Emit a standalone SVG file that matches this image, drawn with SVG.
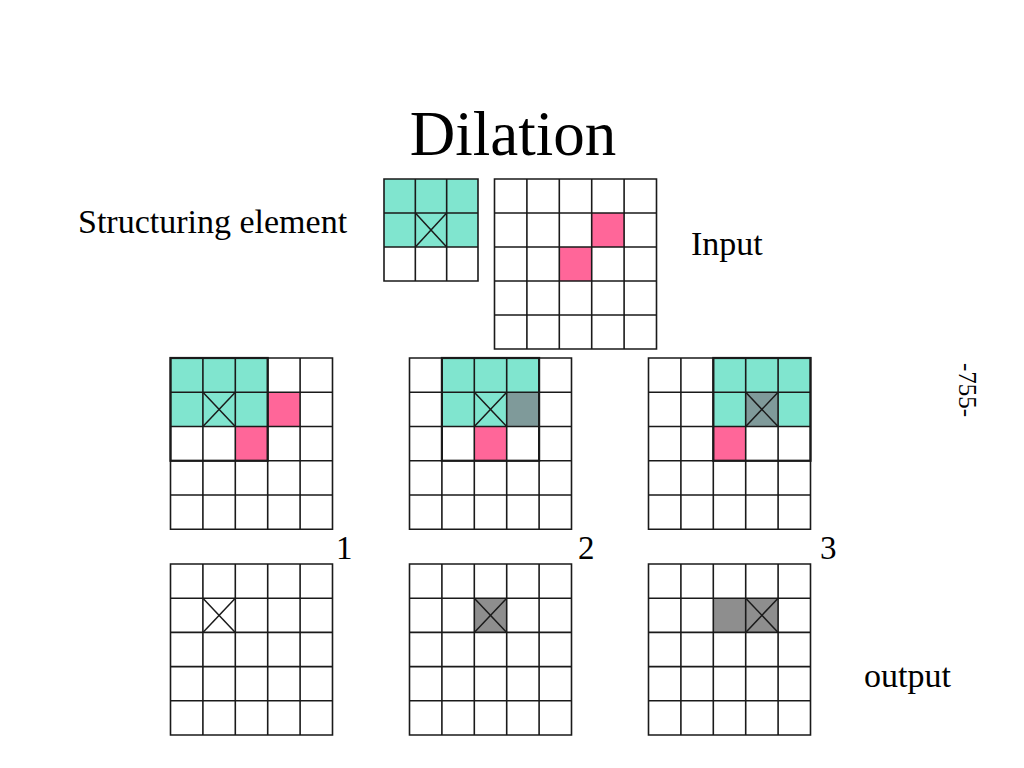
<svg xmlns="http://www.w3.org/2000/svg" width="1024" height="768" viewBox="0 0 1024 768">
<style>
.t{font-family:"Liberation Serif","Times New Roman",serif;fill:#000}
.g{fill:none;stroke:#1a1a1a;stroke-width:1.6}
.se{fill:none;stroke:#1a1a1a;stroke-width:2.2}
.x{stroke:#1a1a1a;stroke-width:1.5}
.teal{fill:#80E5CF}
.pink{fill:#FF6699}
.ov{fill:#7F9A9A}
.gray{fill:#8E8E8E}
.bg{fill:#fff}
</style>
<rect width="1024" height="768" fill="#fff"/>
<text class="t" x="513" y="155" font-size="63" text-anchor="middle">Dilation</text>
<text class="t" x="78" y="233" font-size="34">Structuring element</text>
<text class="t" x="691" y="255" font-size="34">Input</text>
<text class="t" x="864" y="687" font-size="34">output</text>
<text class="t" x="336" y="559" font-size="33">1</text>
<text class="t" x="578" y="559" font-size="33">2</text>
<text class="t" x="820" y="559" font-size="33">3</text>
<text class="t" font-size="25" text-anchor="middle" transform="translate(959,390) rotate(90)">-755-</text>

<g id="structuring-element">
<rect class="teal" x="384" y="179" width="94" height="68"/>
<line class="x" x1="415.33" y1="213" x2="446.67" y2="247"/>
<line class="x" x1="446.67" y1="213" x2="415.33" y2="247"/>
<path class="g" d="M384 179H478V281H384Z M415.33 179V281 M446.67 179V281 M384 213H478 M384 247H478"/>
</g>

<g id="input">
<rect class="bg" x="494.5" y="179" width="162" height="170"/>
<rect class="pink" x="591.7" y="213" width="32.4" height="34"/>
<rect class="pink" x="559.3" y="247" width="32.4" height="34"/>
<path class="g" d="M494.5 179H656.5V349H494.5Z M526.9 179V349 M559.3 179V349 M591.7 179V349 M624.1 179V349 M494.5 213H656.5 M494.5 247H656.5 M494.5 281H656.5 M494.5 315H656.5"/>
</g>

<g id="step-1">
<rect class="teal" x="170.5" y="358" width="97.2" height="68.5"/>
<rect class="pink" x="267.7" y="392.25" width="32.4" height="34.25"/>
<rect class="pink" x="235.3" y="426.5" width="32.4" height="34.25"/>
<path class="g" d="M170.5 358H332.5V529.25H170.5Z M202.9 358V529.25 M235.3 358V529.25 M267.7 358V529.25 M300.1 358V529.25 M170.5 392.25H332.5 M170.5 426.5H332.5 M170.5 460.75H332.5 M170.5 495H332.5"/>
<rect class="se" x="170.5" y="358" width="97.2" height="102.75"/>
<line class="x" x1="202.9" y1="392.25" x2="235.3" y2="426.5"/>
<line class="x" x1="235.3" y1="392.25" x2="202.9" y2="426.5"/>
</g>

<g id="step-2">
<rect class="teal" x="441.9" y="358" width="97.2" height="68.5"/>
<rect class="ov" x="506.7" y="392.25" width="32.4" height="34.25"/>
<rect class="pink" x="474.3" y="426.5" width="32.4" height="34.25"/>
<path class="g" d="M409.5 358H571.5V529.25H409.5Z M441.9 358V529.25 M474.3 358V529.25 M506.7 358V529.25 M539.1 358V529.25 M409.5 392.25H571.5 M409.5 426.5H571.5 M409.5 460.75H571.5 M409.5 495H571.5"/>
<rect class="se" x="441.9" y="358" width="97.2" height="102.75"/>
<line class="x" x1="474.3" y1="392.25" x2="506.7" y2="426.5"/>
<line class="x" x1="506.7" y1="392.25" x2="474.3" y2="426.5"/>
</g>

<g id="step-3">
<rect class="teal" x="713.3" y="358" width="97.2" height="68.5"/>
<rect class="ov" x="745.7" y="392.25" width="32.4" height="34.25"/>
<rect class="pink" x="713.3" y="426.5" width="32.4" height="34.25"/>
<path class="g" d="M648.5 358H810.5V529.25H648.5Z M680.9 358V529.25 M713.3 358V529.25 M745.7 358V529.25 M778.1 358V529.25 M648.5 392.25H810.5 M648.5 426.5H810.5 M648.5 460.75H810.5 M648.5 495H810.5"/>
<rect class="se" x="713.3" y="358" width="97.2" height="102.75"/>
<line class="x" x1="745.7" y1="392.25" x2="778.1" y2="426.5"/>
<line class="x" x1="778.1" y1="392.25" x2="745.7" y2="426.5"/>
</g>

<g id="output-1">
<path class="g" d="M170.5 564H332.5V735H170.5Z M202.9 564V735 M235.3 564V735 M267.7 564V735 M300.1 564V735 M170.5 598.2H332.5 M170.5 632.4H332.5 M170.5 666.6H332.5 M170.5 700.8H332.5"/>
<line class="x" x1="202.9" y1="598.2" x2="235.3" y2="632.4"/>
<line class="x" x1="235.3" y1="598.2" x2="202.9" y2="632.4"/>
</g>

<g id="output-2">
<rect class="gray" x="474.3" y="598.2" width="32.4" height="34.2"/>
<path class="g" d="M409.5 564H571.5V735H409.5Z M441.9 564V735 M474.3 564V735 M506.7 564V735 M539.1 564V735 M409.5 598.2H571.5 M409.5 632.4H571.5 M409.5 666.6H571.5 M409.5 700.8H571.5"/>
<line class="x" x1="474.3" y1="598.2" x2="506.7" y2="632.4"/>
<line class="x" x1="506.7" y1="598.2" x2="474.3" y2="632.4"/>
</g>

<g id="output-3">
<rect class="gray" x="713.3" y="598.2" width="64.8" height="34.2"/>
<path class="g" d="M648.5 564H810.5V735H648.5Z M680.9 564V735 M713.3 564V735 M745.7 564V735 M778.1 564V735 M648.5 598.2H810.5 M648.5 632.4H810.5 M648.5 666.6H810.5 M648.5 700.8H810.5"/>
<line class="x" x1="745.7" y1="598.2" x2="778.1" y2="632.4"/>
<line class="x" x1="778.1" y1="598.2" x2="745.7" y2="632.4"/>
</g>

<g id="connectors"></g>
</svg>
